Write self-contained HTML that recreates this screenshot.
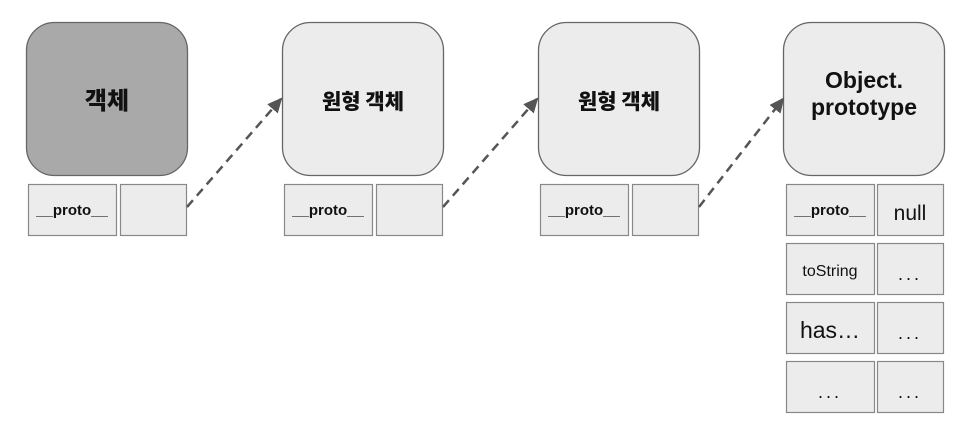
<!DOCTYPE html>
<html><head><meta charset="utf-8"><style>
body{margin:0;background:#fff;}
svg{display:block}
text{font-family:"Liberation Sans","Noto Sans CJK KR",sans-serif;fill:#111;}
.b{font-weight:bold}
.k{font-family:"Noto Sans CJK KR","Liberation Sans",sans-serif;font-weight:900}
</style></head><body>
<svg width="958" height="430" viewBox="0 0 958 430" xmlns="http://www.w3.org/2000/svg">
<defs><marker id="ah" markerWidth="16" markerHeight="14" refX="13" refY="7" orient="auto" markerUnits="userSpaceOnUse"><path d="M0,0 L15,7 L0,14 z" fill="#555"/></marker></defs>
<g stroke="#666" stroke-width="1.3">
<rect x="26.5" y="22.5" width="161" height="153" rx="28" fill="#a9a9a9"/>
<rect x="282.5" y="22.5" width="161" height="153" rx="28" fill="#ececec"/>
<rect x="538.5" y="22.5" width="161" height="153" rx="28" fill="#ececec"/>
<rect x="783.5" y="22.5" width="161" height="153" rx="28" fill="#ececec"/>
</g>
<g stroke="#888" stroke-width="1.2" fill="#ececec">
<rect x="28.5" y="184.5" width="88" height="51"/><rect x="120.5" y="184.5" width="66" height="51"/>
<rect x="284.5" y="184.5" width="88" height="51"/><rect x="376.5" y="184.5" width="66" height="51"/>
<rect x="540.5" y="184.5" width="88" height="51"/><rect x="632.5" y="184.5" width="66" height="51"/>
<rect x="786.5" y="184.5" width="88" height="51"/><rect x="877.5" y="184.5" width="66" height="51"/>
<rect x="786.5" y="243.5" width="88" height="51"/><rect x="877.5" y="243.5" width="66" height="51"/>
<rect x="786.5" y="302.5" width="88" height="51"/><rect x="877.5" y="302.5" width="66" height="51"/>
<rect x="786.5" y="361.5" width="88" height="51"/><rect x="877.5" y="361.5" width="66" height="51"/>
</g>
<g stroke="#555" stroke-width="2.5" stroke-dasharray="9,6" fill="none" marker-end="url(#ah)">
<line x1="187" y1="207" x2="281" y2="99"/>
<line x1="443" y1="207" x2="537" y2="99"/>
<line x1="699" y1="207" x2="783" y2="99"/>
</g>
<g text-anchor="middle">
<text class="k" x="107" y="109" font-size="24">객체</text>
<text class="k" x="363" y="109" font-size="21">원형 객체</text>
<text class="k" x="619" y="109" font-size="21">원형 객체</text>
<text class="b" x="864" y="88" font-size="23">Object.</text>
<text class="b" x="864" y="115" font-size="23">prototype</text>
<text class="b" x="72" y="215" font-size="15">__proto__</text>
<text class="b" x="328" y="215" font-size="15">__proto__</text>
<text class="b" x="584" y="215" font-size="15">__proto__</text>
<text class="b" x="830" y="215" font-size="15">__proto__</text>
<text x="910" y="220" font-size="21">null</text>
<text x="830" y="276" font-size="16">toString</text>
<text x="910" y="280" font-size="18" letter-spacing="3">...</text>
<text x="830" y="338" font-size="23">has…</text>
<text x="910" y="339" font-size="18" letter-spacing="3">...</text>
<text x="830" y="398" font-size="18" letter-spacing="3">...</text>
<text x="910" y="398" font-size="18" letter-spacing="3">...</text>
</g>
</svg>
</body></html>
